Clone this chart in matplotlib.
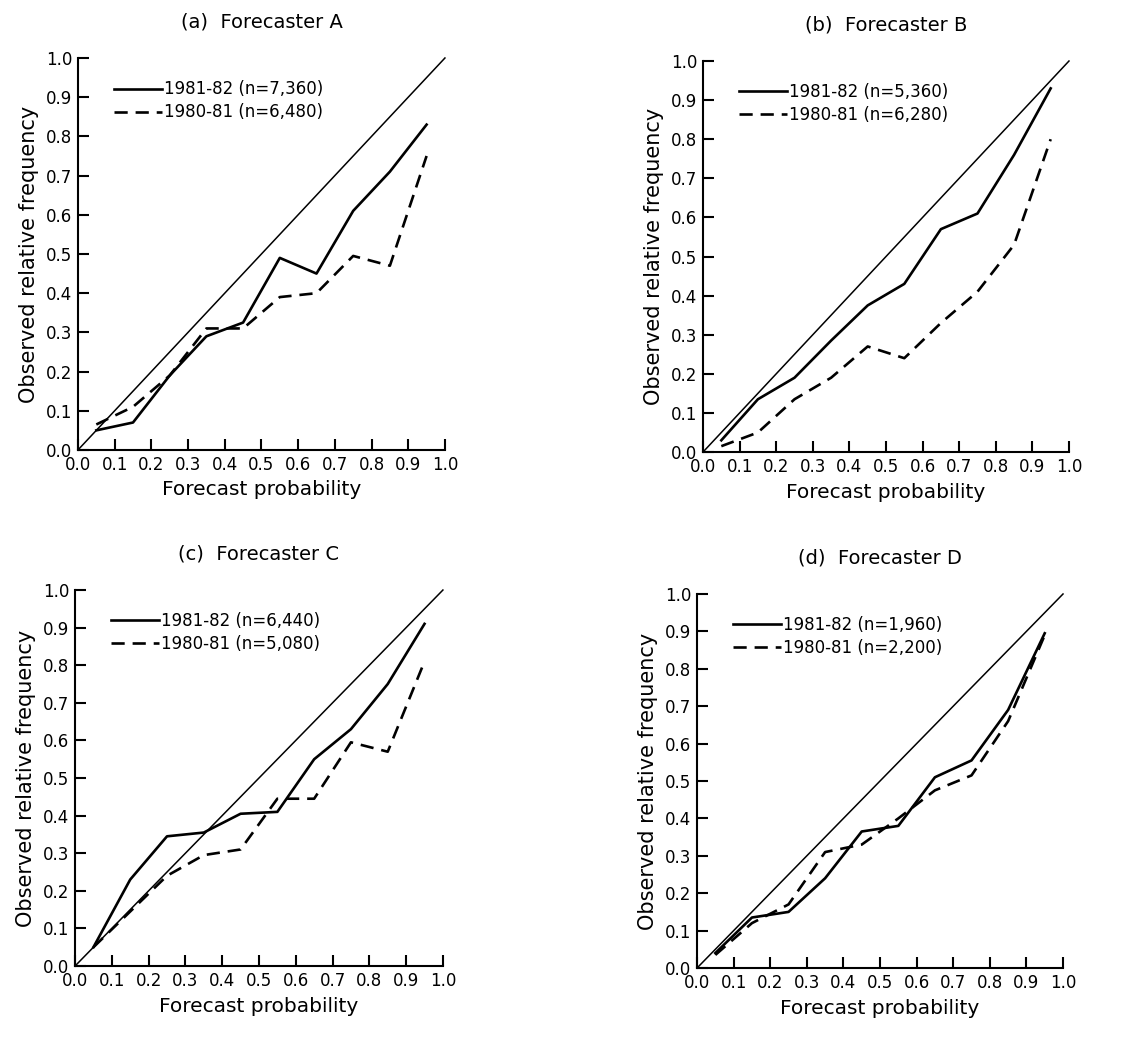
import matplotlib
matplotlib.use('Agg')
import matplotlib.pyplot as plt

plt.rcParams['font.family'] = 'DejaVu Sans'

# forecast probability bins (centres)
prob = [0.05, 0.15, 0.25, 0.35, 0.45, 0.55, 0.65, 0.75, 0.85, 0.95]

titles = ['(a)  Forecaster A', '(b)  Forecaster B', '(c)  Forecaster C', '(d)  Forecaster D']

labels_8182 = ['1981-82 (n=7,360)', '1981-82 (n=5,360)', '1981-82 (n=6,440)', '1981-82 (n=1,960)']
labels_8081 = ['1980-81 (n=6,480)', '1980-81 (n=6,280)', '1980-81 (n=5,080)', '1980-81 (n=2,200)']

freq_a_8182 = [0.05, 0.07, 0.19, 0.29, 0.325, 0.49, 0.45, 0.61, 0.71, 0.83]
freq_a_8081 = [0.065, 0.11, 0.19, 0.31, 0.31, 0.39, 0.40, 0.495, 0.47, 0.75]
freq_b_8182 = [0.03, 0.135, 0.19, 0.285, 0.375, 0.43, 0.57, 0.61, 0.76, 0.93]
freq_b_8081 = [0.015, 0.05, 0.135, 0.19, 0.27, 0.24, 0.33, 0.41, 0.53, 0.80]
freq_c_8182 = [0.05, 0.23, 0.345, 0.355, 0.405, 0.41, 0.55, 0.63, 0.75, 0.91]
freq_c_8081 = [0.05, 0.145, 0.24, 0.295, 0.31, 0.445, 0.445, 0.595, 0.57, 0.81]
freq_d_8182 = [0.04, 0.135, 0.15, 0.24, 0.365, 0.38, 0.51, 0.555, 0.69, 0.895]
freq_d_8081 = [0.035, 0.12, 0.17, 0.31, 0.33, 0.40, 0.475, 0.515, 0.66, 0.89]

series_8182 = [freq_a_8182, freq_b_8182, freq_c_8182, freq_d_8182]
series_8081 = [freq_a_8081, freq_b_8081, freq_c_8081, freq_d_8081]

ticks = [i / 10 for i in range(11)]

# axes rectangles in figure fractions
positions = [
    [0.0693, 0.5686, 0.3262, 0.3758],
    [0.6249, 0.5666, 0.3253, 0.3749],
    [0.0667, 0.0738, 0.3270, 0.3605],
    [0.6196, 0.0719, 0.3253, 0.3586],
]

fig = plt.figure(figsize=(11.25, 10.43), dpi=100)

for i in range(4):
    ax = fig.add_axes(positions[i])
    ax.plot([0, 1], [0, 1], color='black', lw=1.1, clip_on=False)
    l1, = ax.plot(prob, series_8182[i], color='black', lw=1.9, clip_on=False)
    l2, = ax.plot(prob, series_8081[i], color='black', lw=1.9, dashes=(5, 3), clip_on=False)
    ax.set_xlim(0, 1)
    ax.set_ylim(0, 1)
    ax.spines['top'].set_visible(False)
    ax.spines['right'].set_visible(False)
    ax.spines['left'].set_linewidth(1.5)
    ax.spines['bottom'].set_linewidth(1.5)
    ax.set_xticks(ticks)
    ax.set_yticks(ticks)
    ax.set_xticklabels(['%.1f' % t for t in ticks])
    ax.set_yticklabels(['%.1f' % t for t in ticks])
    ax.tick_params(direction='in', length=8, width=1.5, labelsize=12, pad=4)
    ax.set_xlabel('Forecast probability', fontsize=14.5, labelpad=5)
    ax.set_ylabel('Observed relative frequency', fontsize=15, labelpad=5)
    ax.set_title(titles[i], fontsize=14, pad=22)
    ax.legend([l1, l2], [labels_8182[i], labels_8081[i]], loc='upper left',
              bbox_to_anchor=(0.08, 0.96), frameon=False, fontsize=12,
              handlelength=2.9, handletextpad=0.1, labelspacing=0.3,
              borderaxespad=0)

fig.savefig('out.png', dpi=100)
